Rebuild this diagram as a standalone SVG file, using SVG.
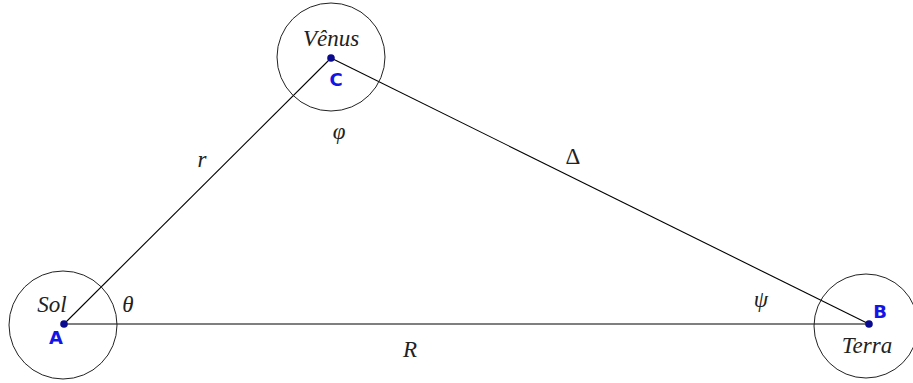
<svg xmlns="http://www.w3.org/2000/svg" width="913" height="383" viewBox="0 0 913 383">
<style>
.orb{fill:none;stroke:#222;stroke-width:1}
.ln{stroke:#000;stroke-width:1.1;fill:none}
.math{font-family:"Liberation Serif","DejaVu Serif",serif;font-style:italic;font-size:23px;fill:#222;text-anchor:middle}
.up{font-family:"Liberation Serif","DejaVu Serif",serif;font-size:23px;fill:#222;text-anchor:middle}
.pt{font-family:"DejaVu Sans","Liberation Sans",sans-serif;font-size:18px;font-weight:bold;fill:#1414e6;text-anchor:middle}
.dot{fill:#0a0a90}
</style>
<rect width="913" height="383" fill="#fff"/>
<g id="connectors">
<line class="ln" x1="64" y1="324" x2="331" y2="58"/>
<line class="ln" x1="331" y1="58" x2="869" y2="324"/>
<line class="ln" x1="64" y1="324" x2="869" y2="324" stroke-width="1.4"/>
<text class="math" x="202" y="167">r</text>
<text class="up" x="573" y="164">Δ</text>
<text class="math" x="410" y="357">R</text>
<text class="math" x="128" y="312">θ</text>
<text class="math" x="339" y="139">φ</text>
<text class="math" x="761" y="307">ψ</text>
</g>
<g id="A">
<circle class="orb" cx="63" cy="325" r="54"/>
<circle class="dot" cx="64" cy="324" r="3.8"/>
<text class="math" x="52" y="312">Sol</text>
<text class="pt" x="56" y="344">A</text>
</g>
<g id="C">
<circle class="orb" cx="331" cy="57" r="54"/>
<circle class="dot" cx="331" cy="58" r="3.8"/>
<text class="math" x="331" y="46">Vênus</text>
<text class="pt" x="336" y="86">C</text>
</g>
<g id="B">
<circle class="orb" cx="866" cy="326" r="52"/>
<circle class="dot" cx="869" cy="324" r="3.8"/>
<text class="math" x="867" y="353">Terra</text>
<text class="pt" x="880" y="318">B</text>
</g>
</svg>
